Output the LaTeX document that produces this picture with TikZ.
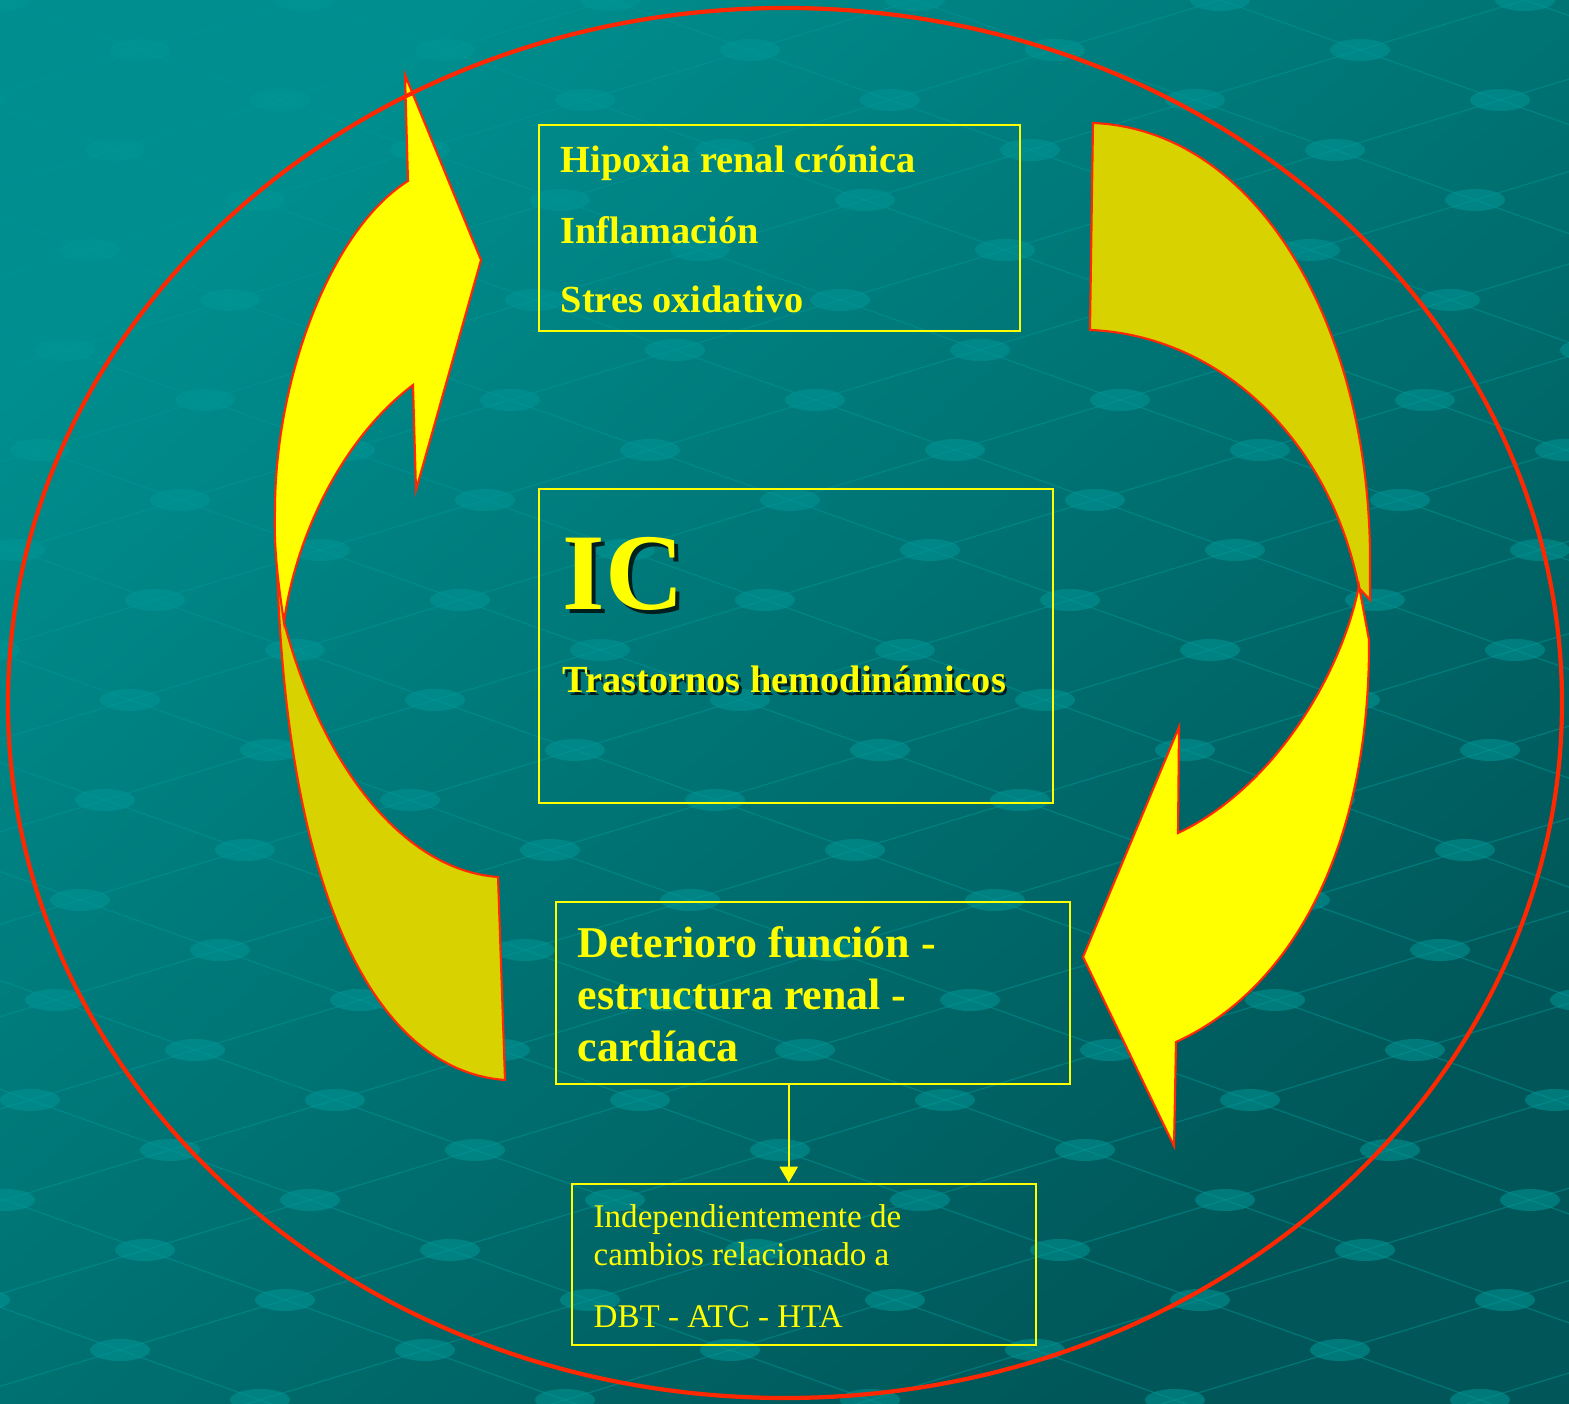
\documentclass[tikz,border=0pt]{standalone}
\usepackage{fontspec}
\setmainfont{Liberation Serif}
\usetikzlibrary{arrows.meta,calc}
\definecolor{bgtop}{RGB}{0,142,142}
\definecolor{bgbot}{RGB}{0,86,88}
\definecolor{netcol}{RGB}{0,150,150}
\definecolor{ringred}{RGB}{255,40,0}
\definecolor{bandfront}{RGB}{255,255,0}
\definecolor{bandback}{RGB}{216,210,0}
\definecolor{boxyellow}{RGB}{255,255,0}

\begin{document}
\begin{tikzpicture}[x=0.01cm,y=-0.01cm,
  panel/.style={draw=boxyellow,line width=0.7pt,inner sep=0pt},
  causetext/.style={text=boxyellow,font=\fontsize{10.9pt}{13pt}\selectfont\bfseries,
        anchor=base west,inner sep=0pt},
  ictext/.style={text=boxyellow,font=\fontsize{31pt}{34pt}\selectfont\bfseries,
        anchor=base west,inner sep=0pt},
  damagetext/.style={text=boxyellow,font=\fontsize{12.5pt}{15pt}\selectfont\bfseries,
        anchor=base west,inner sep=0pt},
  notetext/.style={text=boxyellow,font=\fontsize{9.4pt}{11pt}\selectfont,
        anchor=base west,inner sep=0pt},
  shadowtext/.style={text=black,text opacity=0.75},
  front/.style={fill=bandfront,draw=ringred,line width=0.6pt,line join=miter},
  back/.style={fill=bandback,draw=ringred,line width=0.6pt,line join=miter},
  link/.style={draw=boxyellow,line width=0.6pt,-{Triangle[length=4.6pt,width=5.2pt]}}]

  %% slide background
  \useasboundingbox (0,0) rectangle (1569,1404);
  \shade[top color=bgtop,bottom color=bgbot,shading angle=40] (0,0) rectangle (1569,1404);
  \begin{scope}
    \clip (0,0) rectangle (1569,1404);
    \foreach \i in {-13,...,6}
      \draw[netcol,opacity=0.5,line width=0.35pt]
        ({165*\i-140},{50*(-1-\i)}) -- ({165*\i+140*21},{50*(21-\i)});
    \foreach \j in {-1,...,21}
      \draw[netcol,opacity=0.5,line width=0.35pt]
        ({-165*13+140*\j},{50*(\j+13)}) -- ({165*6+140*\j},{50*(\j-6)});
    \foreach \i in {-13,...,6}
      \foreach \j in {-1,...,21}
        \fill[netcol,opacity=0.55] ({165*\i+140*\j},{50*(\j-\i)})
          ellipse [x radius=30,y radius=11];
  \end{scope}

  %% left band, pointing up
  \draw[back] (276,500) .. controls (276,880) and (370,1070) .. (505,1080)
    -- (498,877) .. controls (400,870) and (320,760) .. (284,622) -- cycle;
  \draw[front] (405,75) -- (481,260) -- (416,490) -- (413,385)
    .. controls (340,440) and (295,540) .. (284,622)
    .. controls (276,570) and (274,540) .. (275,510)
    .. controls (275,380) and (330,230) .. (408,181) -- cycle;

  %% right band, pointing down
  \draw[back] (1093,123) .. controls (1260,130) and (1370,330) .. (1370,560)
    -- (1370,600) -- (1359,588) .. controls (1330,440) and (1220,335) .. (1090,330) -- cycle;
  \draw[front] (1359,586) -- (1369,640)
    .. controls (1370,850) and (1290,990) .. (1176,1042)
    -- (1174,1146) -- (1083,957) -- (1179,727) -- (1178,833)
    .. controls (1270,790) and (1340,680) .. (1359,586) -- cycle;

  %% outer ring
  \draw[ringred,line width=1.2pt] (785,703) ellipse [x radius=777,y radius=695];

  %% causes
  \node[panel,minimum width=4.81cm,minimum height=2.06cm] (causes) at (779.5,228) {};
  \node[causetext] (hipoxia) at (560,173) {Hipoxia renal crónica};
  \node[causetext] (inflam) at (560,244) {Inflamación};
  \node[causetext] (stres) at (560,313) {Stres oxidativo};

  %% IC
  \node[panel,minimum width=5.14cm,minimum height=3.14cm] (ic) at (796,646) {};
  \node[ictext,shadowtext] (icshade) at (566,614) {IC};
  \node[ictext] (iclabel) at (562,610) {IC};
  \node[causetext,shadowtext] (hemoshade) at (564.5,695.5) {Trastornos hemodinámicos};
  \node[causetext] (hemo) at (562,693) {Trastornos hemodinámicos};

  %% renal - cardiac damage
  \node[panel,minimum width=5.14cm,minimum height=1.82cm] (damage) at (813,993) {};
  \node[damagetext] (dam1) at (577,958) {Deterioro función -};
  \node[damagetext] (dam2) at (577,1010) {estructura renal -};
  \node[damagetext] (dam3) at (577,1062) {cardíaca};

  %% note
  \node[panel,minimum width=4.64cm,minimum height=1.61cm] (note) at (804,1264.5) {};
  \node[notetext] (note1) at (593,1228) {Independientemente de};
  \node[notetext] (note2) at (593,1266) {cambios relacionado a};
  \node[notetext] (note3) at (593,1328) {DBT - ATC - HTA};

  \coordinate (lnk) at ($(damage.south west)!0.453!(damage.south east)$);
  \draw[link] (lnk) -- (lnk |- note.north);
\end{tikzpicture}
\end{document}
